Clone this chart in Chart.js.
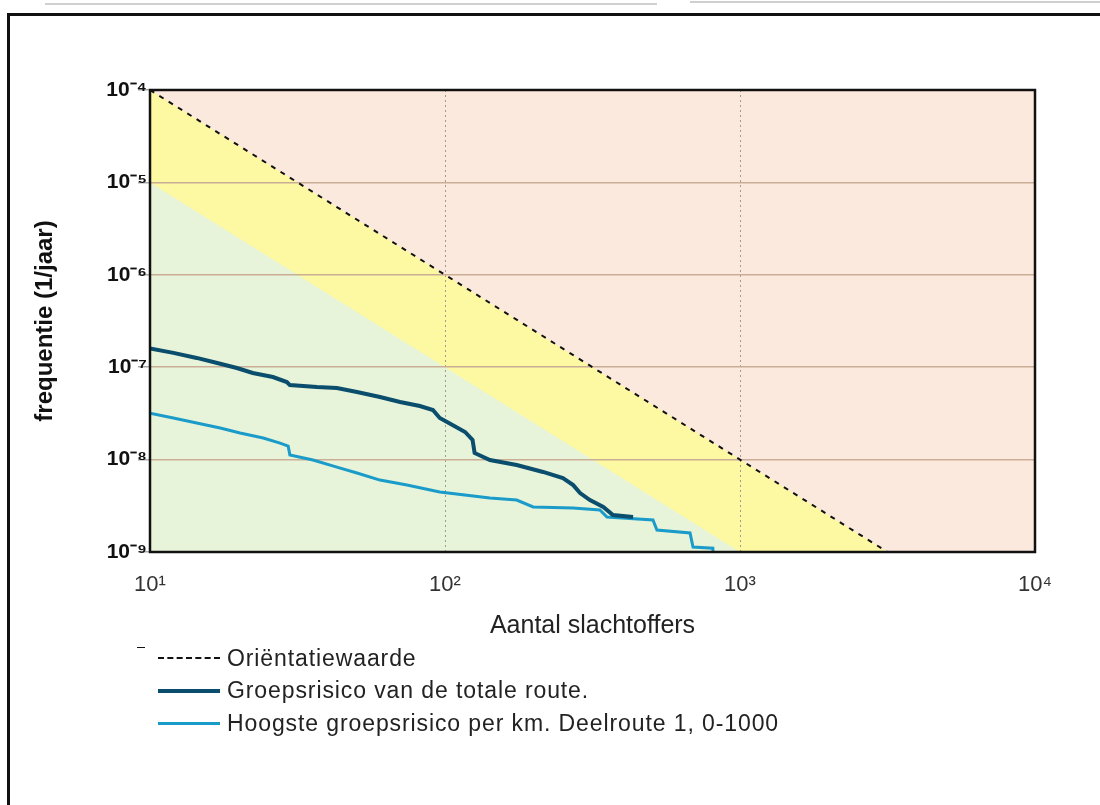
<!DOCTYPE html>
<html>
<head>
<meta charset="utf-8">
<script src="https://cdn.jsdelivr.net/npm/chart.js@4.4.1/dist/chart.umd.min.js"></script>
<style>
  html, body { margin: 0; padding: 0; background: #fff; }
  body { width: 1100px; height: 805px; position: relative; overflow: hidden; font-family: "Liberation Sans", Arial, sans-serif; }
  #wrap { position: absolute; left: 0; top: 0; width: 1100px; height: 805px; }
  #plotbg { position: absolute; background: #fce9de; }
  .frame { position: absolute; background: #111; }
  .scanline { position: absolute; background: #cfcfcf; height: 2px; }
  #legend { position: absolute; left: 158px; top: 642px; font-size: 23px; letter-spacing: 0.9px; color: #222; }
  .item { height: 32.5px; display: flex; align-items: center; }
  .swatch { width: 62px; margin-right: 7px; }
</style>
</head>
<body>
<div class="scanline" style="left:45px; top:3px; width:612px;"></div>
<div class="scanline" style="left:690px; top:1px; width:410px;"></div>
<div class="frame" style="left:7px; top:13px; width:1093px; height:3px;"></div>
<div class="frame" style="left:7px; top:13px; width:3px; height:792px;"></div>
<div class="frame" style="left:137px; top:647px; width:8px; height:1px;"></div>
<div id="plotbg"></div>
<div id="wrap"><canvas id="fn_chart" width="1100" height="805"></canvas></div>
<div id="legend"></div>
<script>
// tick values and labels
const xTicks = [10, 100, 1000, 10000];
const xTickLabels = ['10¹', '10²', '10³', '10⁴'];
const yTicks = [1e-9, 1e-8, 1e-7, 1e-6, 1e-5, 1e-4];
const yTickLabels = ['10⁻⁹', '10⁻⁸', '10⁻⁷', '10⁻⁶', '10⁻⁵', '10⁻⁴'];

// orientatiewaarde and the band one decade below it
const orientN = [10, 3162];
const orientF = [1e-4, 1e-9];
const bandN = [10, 1000];
const bandF = [1e-5, 1e-9];

// groepsrisico van de totale route
const totalN = [10, 12, 14.4, 16.9, 19.7, 22.3, 26.1, 29.1, 29.8, 36.8, 43, 50.3, 60.2, 70.4, 82.2, 91, 96, 106, 117, 124, 126, 142, 175, 215, 251, 272, 287, 310, 344, 371, 434];
const totalF = [1.6e-7, 1.43e-7, 1.26e-7, 1.11e-7, 9.8e-8, 8.65e-8, 7.83e-8, 6.9e-8, 6.4e-8, 6.1e-8, 5.96e-8, 5.4e-8, 4.76e-8, 4.2e-8, 3.8e-8, 3.44e-8, 2.82e-8, 2.37e-8, 1.99e-8, 1.63e-8, 1.18e-8, 9.9e-9, 8.75e-9, 7.35e-9, 6.3e-9, 5.3e-9, 4.35e-9, 3.65e-9, 3.07e-9, 2.51e-9, 2.39e-9];

// hoogste groepsrisico per km, deelroute 1
const kmN = [10, 12, 14.4, 17.3, 20.2, 24.2, 27.6, 29.4, 29.8, 35.7, 43, 50.3, 60.2, 74.3, 96, 142, 175, 199, 272, 335, 354, 507, 523, 677, 693, 809, 810];
const kmF = [3.17e-8, 2.82e-8, 2.49e-8, 2.2e-8, 1.94e-8, 1.71e-8, 1.51e-8, 1.4e-8, 1.12e-8, 9.9e-9, 8.3e-9, 7.16e-9, 6.0e-9, 5.3e-9, 4.46e-9, 3.84e-9, 3.65e-9, 3.07e-9, 2.99e-9, 2.85e-9, 2.39e-9, 2.22e-9, 1.73e-9, 1.61e-9, 1.13e-9, 1.1e-9, 1e-9];

const pts = (xs, ys) => xs.map((x, i) => ({x: x, y: ys[i]}));

const plotFrame = {
    id: 'plotFrame',
    afterLayout(chart) {
        const a = chart.chartArea;
        const bg = document.getElementById('plotbg');
        bg.style.left = a.left + 'px';
        bg.style.top = a.top + 'px';
        bg.style.width = (a.right - a.left) + 'px';
        bg.style.height = (a.bottom - a.top) + 'px';
    },
    afterDraw(chart) {
        const a = chart.chartArea;
        const ctx = chart.ctx;
        ctx.save();
        ctx.strokeStyle = '#111';
        ctx.lineWidth = 2.5;
        ctx.strokeRect(a.left, a.top, a.right - a.left, a.bottom - a.top);
        ctx.restore();
    }
};

const ctx = document.getElementById('fn_chart').getContext('2d');

// filler paints the fills last-to-first, so green (index 0) ends up over yellow
const fnChart = new Chart(ctx, {
    type: 'line',
    data: {
        datasets: [
            {
                label: 'green zone',
                data: pts(bandN, bandF),
                borderWidth: 0,
                pointRadius: 0,
                backgroundColor: '#e8f4da',
                fill: 'start',
                legend: false
            },
            {
                label: 'yellow zone',
                data: pts(orientN, orientF),
                borderWidth: 0,
                pointRadius: 0,
                backgroundColor: '#fdf8a2',
                fill: 'start',
                legend: false
            },
            {
                label: 'Oriëntatiewaarde',
                data: pts(orientN, orientF),
                borderColor: '#111',
                borderWidth: 2,
                borderDash: [5, 6],
                pointRadius: 0,
                fill: false,
                legend: true
            },
            {
                label: 'Groepsrisico van de totale route.',
                data: pts(totalN, totalF),
                borderColor: '#0b4d6c',
                borderWidth: 4,
                pointRadius: 0,
                fill: false,
                legend: true
            },
            {
                label: 'Hoogste groepsrisico per km. Deelroute 1, 0-1000',
                data: pts(kmN, kmF),
                borderColor: '#1b9bc9',
                borderWidth: 3,
                pointRadius: 0,
                fill: false,
                legend: true
            }
        ]
    },
    options: {
        responsive: false,
        animation: false,
        layout: { padding: { left: 0, right: 65, top: 90, bottom: 160 } },
        plugins: {
            legend: { display: false },
            tooltip: { enabled: false },
            filler: { drawTime: 'beforeDraw' }
        },
        scales: {
            x: {
                type: 'logarithmic',
                min: 10,
                max: 10000,
                afterBuildTicks: (axis) => { axis.ticks = xTicks.map(v => ({value: v})); },
                afterFit: (axis) => { axis.height = 93; },
                ticks: {
                    autoSkip: false,
                    maxRotation: 0,
                    padding: 20,
                    color: '#333',
                    font: { family: 'Liberation Sans', size: 22 },
                    callback: (v) => xTickLabels[xTicks.indexOf(v)]
                },
                grid: { color: '#a09a90', lineWidth: 1, drawTicks: false },
                border: { display: false, dash: [2, 3] },
                title: {
                    display: true,
                    text: 'Aantal slachtoffers',
                    color: '#222',
                    font: { family: 'Liberation Sans', size: 25 }
                }
            },
            y: {
                type: 'logarithmic',
                min: 1e-9,
                max: 1e-4,
                afterBuildTicks: (axis) => { axis.ticks = yTicks.map(v => ({value: v})); },
                afterFit: (axis) => { axis.width = 150; },
                ticks: {
                    autoSkip: false,
                    padding: -9,
                    color: '#111',
                    font: { family: 'Liberation Sans', size: 21, weight: 'bold' },
                    callback: (v) => yTickLabels[yTicks.indexOf(v)]
                },
                grid: { color: '#c9ad94', lineWidth: 1.5, tickLength: 12, tickColor: '#aaa' },
                border: { display: false },
                title: {
                    display: true,
                    text: 'frequentie (1/jaar)',
                    color: '#111',
                    padding: { top: 31, bottom: 0 },
                    font: { family: 'Liberation Sans', size: 24, weight: 'bold' }
                }
            }
        }
    },
    plugins: [plotFrame]
});

// legend built from the chart's own datasets
const legendBox = document.getElementById('legend');
fnChart.data.datasets.filter(ds => ds.legend).forEach((ds) => {
    const row = document.createElement('div');
    row.className = 'item';
    const sw = document.createElement('div');
    sw.className = 'swatch';
    sw.style.borderTop = ds.borderDash ? '2px dashed ' + ds.borderColor : ds.borderWidth + 'px solid ' + ds.borderColor;
    const txt = document.createElement('span');
    txt.textContent = ds.label;
    row.appendChild(sw);
    row.appendChild(txt);
    legendBox.appendChild(row);
});
</script>
</body>
</html>
